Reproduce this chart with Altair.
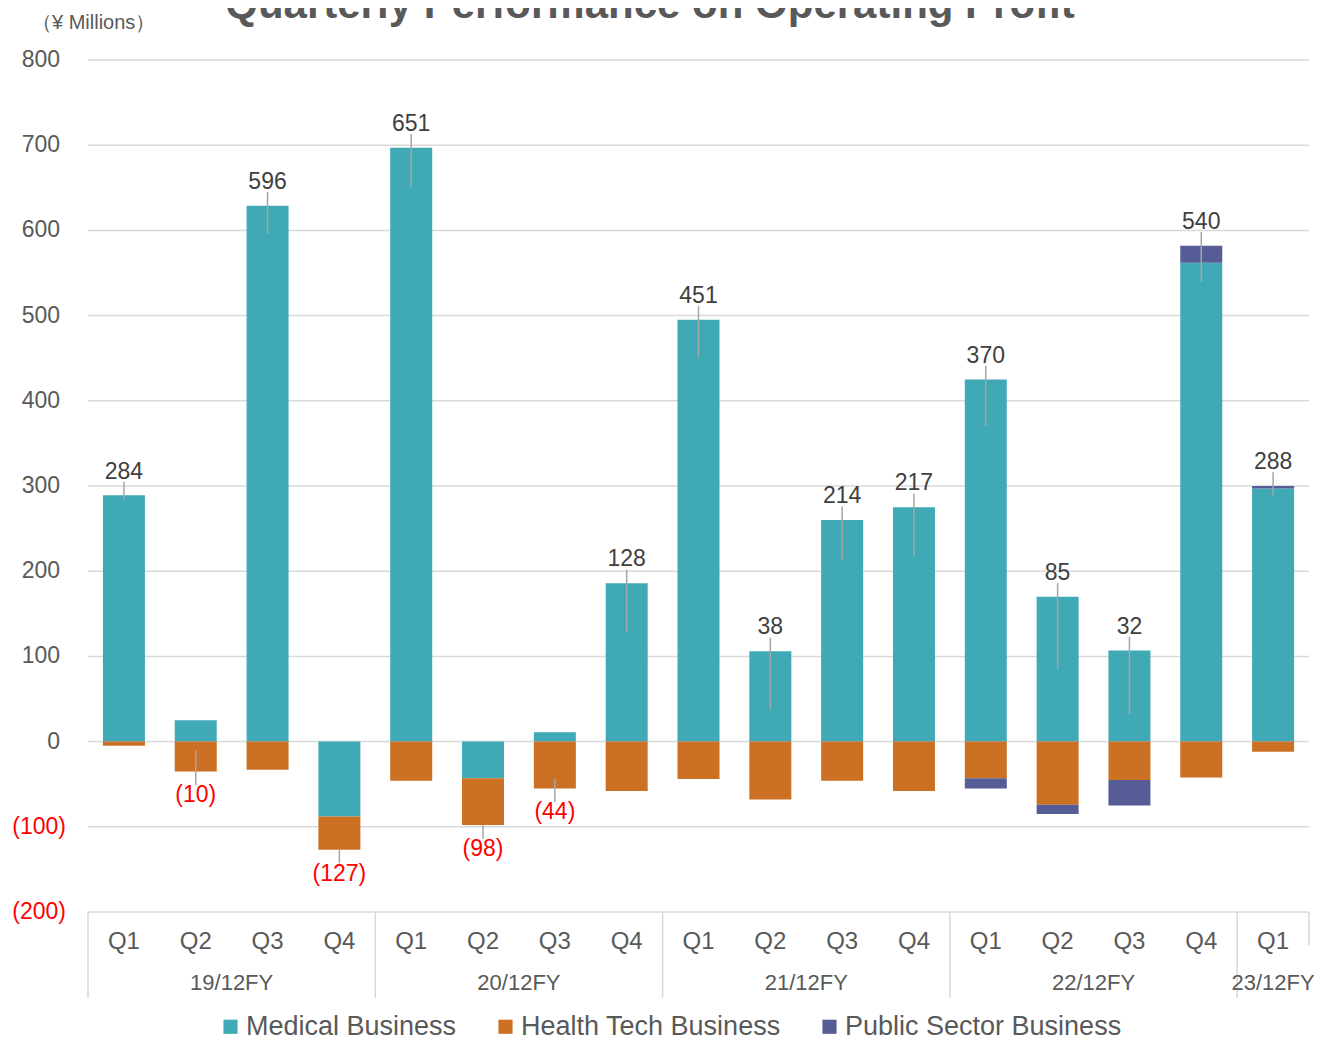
import altair as alt
import pandas as pd

# ---------------- data ----------------
quarters = ["Q1", "Q2", "Q3", "Q4", "Q1", "Q2", "Q3", "Q4", "Q1", "Q2", "Q3", "Q4",
            "Q1", "Q2", "Q3", "Q4", "Q1"]
fiscal_years = ["19/12FY"] * 4 + ["20/12FY"] * 4 + ["21/12FY"] * 4 + ["22/12FY"] * 4 + ["23/12FY"]
medical = [289, 25, 629, -88, 697, -43, 11, 186, 495, 106, 260, 275, 425, 170, 107, 562, 297]
health_tech = [-5, -35, -33, -39, -46, -55, -55, -58, -44, -68, -46, -58, -43, -74, -45, -42, -12]
public_sector = [0, 0, 0, 0, 0, 0, 0, 0, 0, 0, 0, 0, -12, -11, -30, 20, 3]
totals = [284, -10, 596, -127, 651, -98, -44, 128, 451, 38, 214, 217, 370, 85, 32, 540, 288]
y_ticks = [-200, -100, 0, 100, 200, 300, 400, 500, 600, 700, 800]

series_names = ["Medical Business", "Health Tech Business", "Public Sector Business"]
series_colors = ["#40A9B6", "#CC7023", "#555C96"]

TEXT = "#595959"
GRID = "#D9D9D9"
RED = "#FF0000"
FONT = "Liberation Sans"

n = len(quarters)
idx = list(range(n))

# ---------------- tables ----------------
bar_rows = []
for k, (name, vals) in enumerate(zip(series_names, [medical, health_tech, public_sector])):
    for i, v in enumerate(vals):
        if v != 0:
            bar_rows.append({"idx": i, "series": name, "value": v, "ord": k})
bars_df = pd.DataFrame(bar_rows)

OFF = 28   # label offset from the stack end (data units)
GAP = 12   # gap between leader line and label (data units)
lab_rows = []
for i in idx:
    vals = [medical[i], health_tech[i], public_sector[i]]
    top = sum(v for v in vals if v > 0)
    bot = sum(v for v in vals if v < 0)
    t = totals[i]
    if t >= 0:
        ly = top + OFF
        ry, ry2 = t, ly - GAP
        txt = f"{t}"
    else:
        ly = bot - OFF
        ry, ry2 = t, ly + GAP
        txt = f"({abs(t)})"
    lab_rows.append({"idx": i, "ly": ly, "txt": txt, "neg": int(t < 0), "ry": ry, "ry2": ry2,
                     "draw": int(abs(ry2 - ry) > 4), "q": quarters[i]})
lab_df = pd.DataFrame(lab_rows)
rule_df = lab_df[lab_df["draw"] == 1].reset_index(drop=True)
pos_lab = lab_df[lab_df["neg"] == 0].reset_index(drop=True)
neg_lab = lab_df[lab_df["neg"] == 1].reset_index(drop=True)

year_df = (pd.DataFrame({"idx": idx, "year": fiscal_years})
           .groupby("year", as_index=False)["idx"].mean())
# separators of the category box (extend below the -200 line)
sep_df = pd.DataFrame({"sx": [-0.5, 3.5, 7.5, 11.5, 15.5, 16.5],
                       "sy": [-200] * 6,
                       "sy2": [-301, -301, -301, -301, -301, -239]})
tick_df = pd.DataFrame({
    "v": y_ticks,
    "lab": [f"({abs(v)})" if v < 0 else f"{v}" for v in y_ticks],
})
tick_pos = tick_df[tick_df["v"] >= 0].reset_index(drop=True)
tick_neg = tick_df[tick_df["v"] < 0].reset_index(drop=True)

xscale = alt.Scale(domain=[-0.5, n - 0.5], nice=False, zero=False, padding=0)
yscale = alt.Scale(domain=[-200, 800], nice=False)


def X(field):
    return alt.X(field, scale=xscale, axis=None)


def Y(field):
    return alt.Y(field, scale=yscale, axis=None)


# ---------------- layers ----------------
grid = alt.Chart(tick_df).mark_rule(color=GRID, strokeWidth=1.5).encode(y=Y("v:Q"))

bars = alt.Chart(bars_df).mark_bar(size=42).encode(
    x=X("idx:Q"),
    y=alt.Y("value:Q", stack="zero", scale=yscale, axis=None),
    color=alt.Color("series:N",
                    scale=alt.Scale(domain=series_names, range=series_colors),
                    legend=alt.Legend(title=None, orient="none", direction="horizontal",
                                      legendX=129, legendY=953,
                                      symbolType="square", symbolSize=200,
                                      symbolStrokeWidth=0, symbolOpacity=1,
                                      labelFontSize=27, labelFont=FONT, labelColor=TEXT,
                                      labelLimit=0, labelOffset=2, columnPadding=35)),
    order=alt.Order("ord:Q"),
)


def ytext(df, color, xpos):
    return alt.Chart(df).mark_text(fontSize=23, font=FONT, align="right", baseline="middle",
                                   color=color).encode(
        x=alt.value(xpos),
        y=Y("v:Q"),
        text="lab:N",
    )


def vtext(df, color):
    return alt.Chart(df).mark_text(fontSize=23, font=FONT, baseline="middle", color=color).encode(
        x=X("idx:Q"),
        y=Y("ly:Q"),
        text="txt:N",
    )


leaders = alt.Chart(rule_df).mark_rule(color="#A6A6A6", strokeWidth=1.5).encode(
    x=X("idx:Q"),
    y=Y("ry:Q"),
    y2="ry2:Q",
)

q_labels = alt.Chart(lab_df).mark_text(fontSize=24, font=FONT, color=TEXT, baseline="middle").encode(
    x=X("idx:Q"),
    y=alt.value(882),
    text="q:N",
)

y_labels = alt.Chart(year_df).mark_text(fontSize=22, font=FONT, color=TEXT, baseline="middle").encode(
    x=X("idx:Q"),
    y=alt.value(923),
    text="year:N",
)

seps = alt.Chart(sep_df).mark_rule(color=GRID, strokeWidth=1.5).encode(
    x=X("sx:Q"),
    y=Y("sy:Q"),
    y2="sy2:Q",
)

title = alt.Chart(pd.DataFrame({"t": ["Quarterly Performance on Operating Profit"]})).mark_text(
    fontSize=42, font=FONT, fontWeight="bold", color=TEXT, align="center", baseline="alphabetic"
).encode(x=alt.value(562), y=alt.value(-42), text="t:N")

unit = alt.Chart(pd.DataFrame({"t": ["（¥ Millions）"]})).mark_text(
    fontSize=20, font=FONT, color=TEXT, align="left", baseline="middle"
).encode(x=alt.value(-56), y=alt.value(-37), text="t:N")

chart = alt.layer(grid, seps, bars, leaders, vtext(pos_lab, "#404040"), vtext(neg_lab, RED),
                  ytext(tick_pos, TEXT, -28), ytext(tick_neg, RED, -22), q_labels, y_labels,
                  title, unit).properties(
    width=1221,
    height=852,
    autosize=alt.AutoSizeParams(type="none"),
    padding={"left": 80, "top": 52, "right": 10, "bottom": 124},
).configure_view(strokeWidth=0)

chart.save("out.html", embed_options={"renderer": "svg", "actions": False})
